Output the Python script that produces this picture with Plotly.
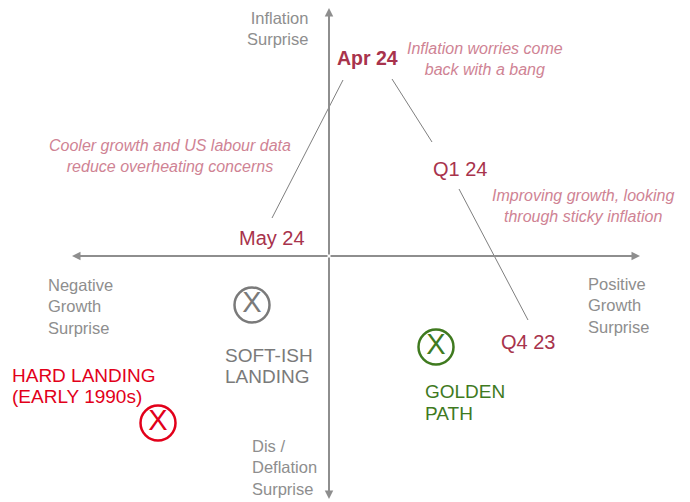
import plotly.graph_objects as go

# ---- data (units: growth surprise on x, inflation surprise on y) ----
periods = ["Q4 23", "Q1 24", "Apr 24", "May 24"]
period_x = [1.99, 1.305, 0.385, -0.575]
period_y = [-0.86, 0.87, 1.98, 0.18]

# connectors between consecutive periods (start -> end)
seg_x0 = [1.99, 1.03, 0.14]
seg_y0 = [-0.64, 1.14, 1.76]
seg_x1 = [1.30, 0.63, -0.57]
seg_y1 = [0.67, 1.77, 0.38]

comments = ["Improving growth, looking<br>through sticky inflation",
            "Inflation worries come<br>back with a bang",
            "Cooler growth and US labour data<br>reduce overheating concerns"]
comment_x = [2.54, 1.56, -1.59]
comment_y = [0.505, 1.975, 1.00]

scenarios = [["SOFT-ISH", "LANDING"], ["HARD LANDING", "(EARLY 1990s)"], ["GOLDEN", "PATH"]]
scen_x = [-0.77, -1.71, 1.07]
scen_y = [-0.49, -1.67, -0.91]
scen_lbl_x = [-1.06, -3.19, 0.94]
scen_lbl_y = [-1.10, -1.30, -1.465]
scen_colors = ["#7a7a7a", "#e2001a", "#3f7a1f"]

axis_labels = ["Inflation<br>Surprise", "Negative<br>Growth<br>Surprise",
               "Positive<br>Growth<br>Surprise", "Dis /<br>Deflation<br>Surprise"]
axis_lbl_x = [-0.19, -2.83, 2.57, -0.79]
axis_lbl_y = [2.275, -0.50, -0.49, -2.11]
axis_lbl_anchor = ["right", "left", "left", "left"]

x_ends = [-2.57, 3.11]
y_ends = [-2.43, 2.48]

FONT = "Liberation Sans, Arial, sans-serif"
AXIS_GREY = "#8e8e8e"
CRIMSON = "#a8334c"
PINK = "#cf8394"
SCEN_LINE_GAP = 0.215

fig = go.Figure()

# connectors
for a, b, c, d in zip(seg_x0, seg_y0, seg_x1, seg_y1):
    fig.add_trace(go.Scatter(x=[a, c], y=[b, d], mode="lines",
                             line=dict(color="#7f7f7f", width=1),
                             hoverinfo="skip", showlegend=False))

# scenario circles
fig.add_trace(go.Scatter(x=scen_x, y=scen_y, mode="markers+text",
                         marker=dict(symbol="circle-open", size=35,
                                     line=dict(width=2.5, color=scen_colors),
                                     color=scen_colors),
                         text=["X"] * 3, textposition="middle center",
                         textfont=dict(family=FONT, size=29, color=scen_colors),
                         hoverinfo="skip", showlegend=False))

ann = []
# axes with arrows
for xe in x_ends:
    ann.append(dict(x=xe, y=0, ax=0, ay=0, xref="x", yref="y", axref="x", ayref="y",
                    text="", showarrow=True, arrowhead=2, arrowsize=0.85,
                    arrowwidth=2, arrowcolor=AXIS_GREY, standoff=0, startstandoff=0))
for ye in y_ends:
    ann.append(dict(x=0, y=ye, ax=0, ay=0, xref="x", yref="y", axref="x", ayref="y",
                    text="", showarrow=True, arrowhead=2, arrowsize=0.85,
                    arrowwidth=2, arrowcolor=AXIS_GREY, standoff=0, startstandoff=0))

for t, x, y, anc in zip(axis_labels, axis_lbl_x, axis_lbl_y, axis_lbl_anchor):
    ann.append(dict(x=x, y=y, text=t, showarrow=False, xanchor=anc, yanchor="middle",
                    align=anc, font=dict(family=FONT, size=16.5, color=AXIS_GREY)))

for t, x, y in zip(periods, period_x, period_y):
    bold = t == "Apr 24"
    ann.append(dict(x=x, y=y, text=("<b>%s</b>" % t) if bold else t, showarrow=False,
                    xanchor="center", yanchor="middle",
                    font=dict(family=FONT, size=19.5 if bold else 20, color=CRIMSON)))

for t, x, y in zip(comments, comment_x, comment_y):
    ann.append(dict(x=x, y=y, text="<i>%s</i>" % t, showarrow=False,
                    xanchor="center", yanchor="middle", align="center",
                    font=dict(family=FONT, size=16, color=PINK)))

for lines, x, y, c in zip(scenarios, scen_lbl_x, scen_lbl_y, scen_colors):
    n = len(lines)
    for i, line in enumerate(lines):
        ly = y + (n - 1) / 2 * SCEN_LINE_GAP - i * SCEN_LINE_GAP
        ann.append(dict(x=x, y=ly, text=line, showarrow=False, xanchor="left",
                        yanchor="middle", align="left",
                        font=dict(family=FONT, size=19, color=c)))

# the page body adds an 8px offset, so the ranges are shifted to compensate
fig.update_layout(
    width=690, height=502,
    margin=dict(l=0, r=0, t=0, b=0),
    paper_bgcolor="white", plot_bgcolor="white",
    xaxis=dict(range=[-3.21, 3.69], visible=False, fixedrange=True),
    yaxis=dict(range=[-2.54, 2.48], visible=False, fixedrange=True),
    annotations=ann,
)

fig.write_html("out.html")
